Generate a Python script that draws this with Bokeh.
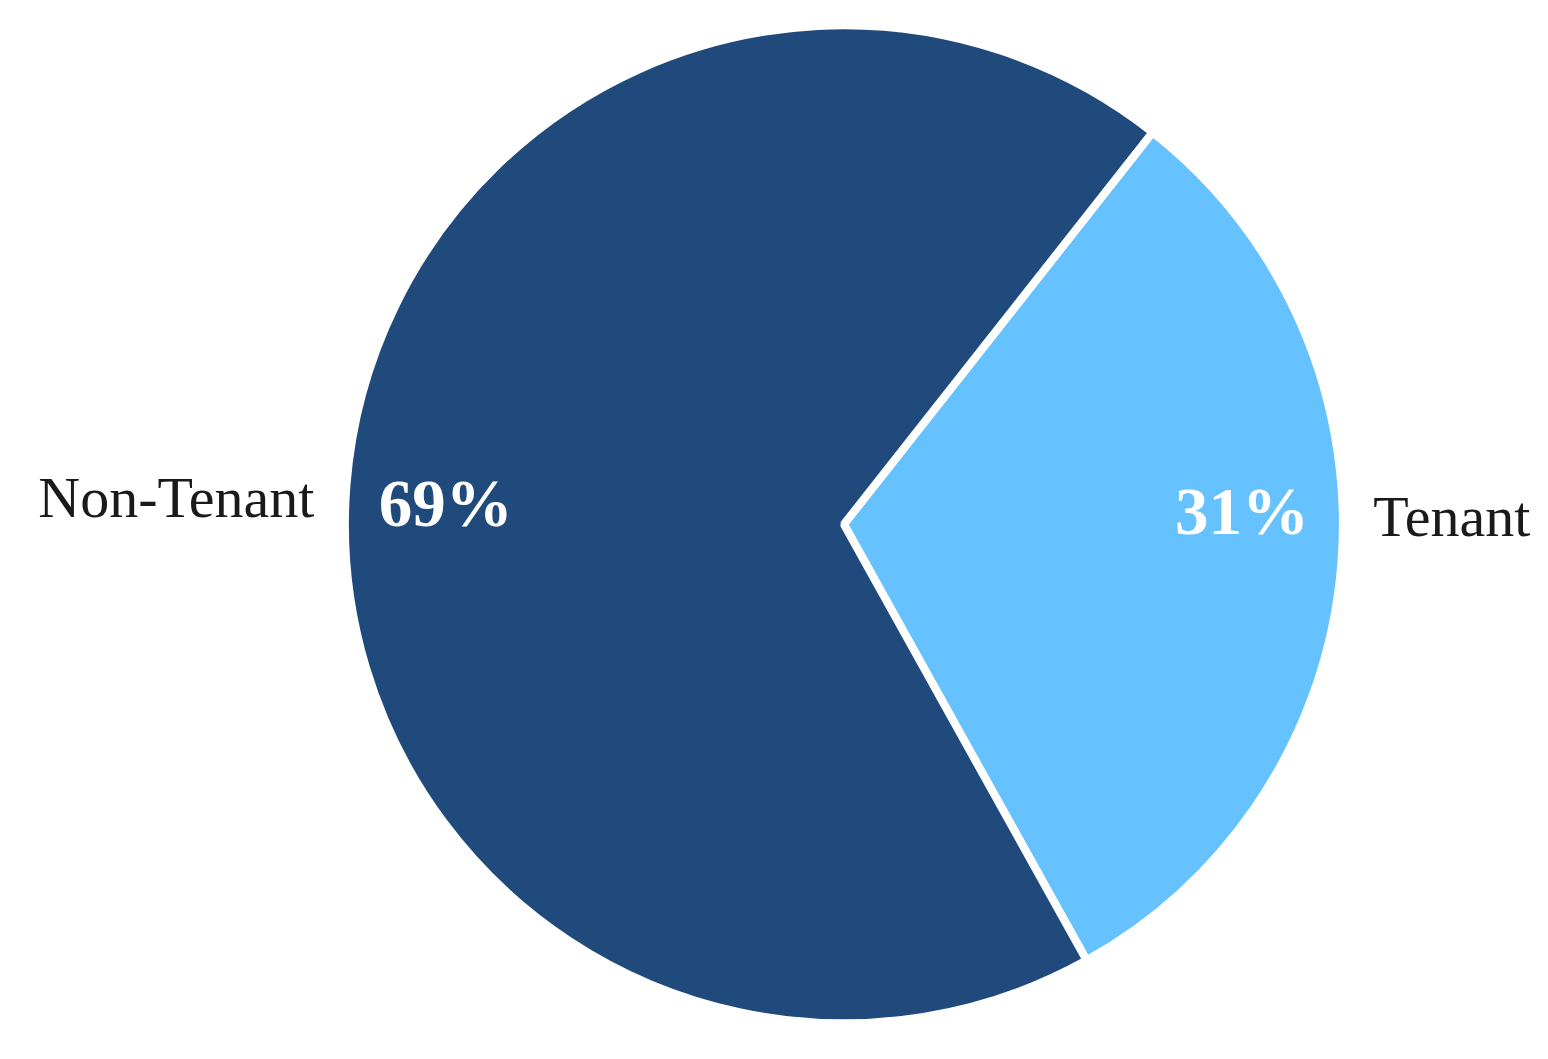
import numpy as np
from bokeh.plotting import figure
from bokeh.models import ColumnDataSource, Range1d
from bokeh.embed import file_html
from bokeh.resources import INLINE
from bokeh.core.properties import value

# ---- data ----
categories = ["Tenant", "Non-Tenant"]
shares = [31.3, 68.7]
pct_labels = ["31%", "69%"]
colors = ["#66c2fe", "#214a7c"]

# ---- layout ----
W, H = 1532, 1043
cx, cy, R = 843.4, H - 523.8, 495.0
start_deg = -60.9

vals = np.array(shares, dtype=float)
ang = vals / vals.sum() * 2 * np.pi
ends = np.deg2rad(start_deg) + np.cumsum(ang)
starts = ends - ang
mids = (starts + ends) / 2

src = ColumnDataSource(dict(
    start=starts, end=ends, color=colors, cat=categories,
))

p = figure(width=W, height=H, output_backend="svg", toolbar_location=None,
           x_range=Range1d(0, W), y_range=Range1d(0, H),
           min_border=0, min_border_left=0, min_border_right=0,
           min_border_top=0, min_border_bottom=0)
p.axis.visible = False
p.grid.visible = False
p.outline_line_color = None
p.background_fill_color = "white"
p.border_fill_color = "white"

p.wedge(x=cx, y=cy, radius=R + 4, start_angle="start", end_angle="end",
        direction="anticlock", fill_color="color", line_color="white",
        line_width=8, source=src)

# outer category labels
r_out = 1.073 * R
ox = cx + r_out * np.cos(mids)
oy = cy + 17.5 + 0.226 * r_out * np.sin(mids)
aligns = ["left" if c > 0 else "right" for c in np.cos(mids)]
osrc = ColumnDataSource(dict(x=ox, y=oy, t=categories, a=aligns))
p.text(x="x", y="y", text="t", text_align="a", text_baseline="middle",
       text_font=value("Liberation Serif"), text_font_size="58px",
       text_color="#1a1a1a", source=osrc)

# inner percentage labels
r_in = 0.807 * R
ix = cx + r_in * np.cos(mids)
iy = cy + 17.5 + 0.127 * r_in * np.sin(mids)
isrc = ColumnDataSource(dict(x=ix, y=iy, t=pct_labels))
p.text(x="x", y="y", text="t", text_align="center", text_baseline="middle",
       text_font=value("Liberation Serif"), text_font_size="67px",
       text_font_style="bold", text_color="white", source=isrc)

open("out.html", "w").write(file_html(p, INLINE))
